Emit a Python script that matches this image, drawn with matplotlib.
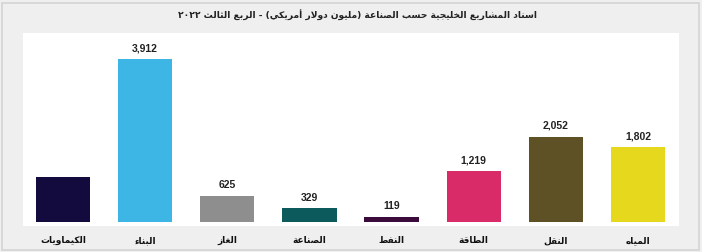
import matplotlib
matplotlib.use("Agg")
import matplotlib.pyplot as plt
from matplotlib.patches import Rectangle

# data
categories = ["الكيماويات", "البناء", "الغاز", "الصناعة", "النفط", "الطاقة", "النقل", "المياه"]
values = [1075, 3912, 625, 329, 119, 1219, 2052, 1802]
value_labels = ["", "3,912", "625", "329", "119", "1,219", "2,052", "1,802"]
colors = ["#130b3e", "#3db5e5", "#8e8e8e", "#0c5a5c", "#3b0b3b", "#d92b68", "#5e5125", "#e6d81d"]
title = "اسناد المشاريع الخليجية حسب الصناعة (مليون دولار أمريكي) - الربع الثالث ٢٠٢٢"

# matplotlib has no arabic shaping, so map letters to presentation forms by hand
letters = "ءآأؤإئابةتثجحخدذرزسشصضطظعغفقكلمنهوىي"
nforms = [1, 2, 2, 2, 2, 4, 2, 4, 2, 4, 4, 4, 4, 4, 2, 2, 2, 2,
          4, 4, 4, 4, 4, 4, 4, 4, 4, 4, 4, 4, 4, 4, 4, 2, 2, 4]
forms = {}
code = 0xFE80
for ch, n in zip(letters, nforms):
    forms[ch] = [chr(code + i) for i in range(n)]
    code += n
lam_alef = {"آ": 0xFEF5, "أ": 0xFEF7, "إ": 0xFEF9, "ا": 0xFEFB}


def shape(text):
    out = []
    i = 0
    prev_joins = False
    while i < len(text):
        ch = text[i]
        if ch not in forms:
            out.append(ch)
            prev_joins = False
            i += 1
            continue
        if ch == "ل" and i + 1 < len(text) and text[i + 1] in lam_alef:
            base = lam_alef[text[i + 1]]
            out.append(chr(base + (1 if prev_joins else 0)))
            prev_joins = False
            i += 2
            continue
        f = forms[ch]
        nxt = text[i + 1] if i + 1 < len(text) else ""
        join_prev = prev_joins and len(f) > 1
        join_next = len(f) == 4 and nxt in forms and len(forms[nxt]) > 1
        if join_prev and join_next:
            out.append(f[3])
        elif join_next:
            out.append(f[2])
        elif join_prev:
            out.append(f[1])
        else:
            out.append(f[0])
        prev_joins = len(f) == 4
        i += 1
    # visual order: reverse, keep digit runs left-to-right, mirror brackets
    s = "".join(out)
    runs = []
    cur = ""
    for ch in s:
        if ch.isdigit():
            if cur and not cur[-1].isdigit():
                runs.append(cur)
                cur = ""
            cur += ch
        else:
            if cur and cur[-1].isdigit():
                runs.append(cur)
                cur = ""
            cur += ch
    runs.append(cur)
    mirror = {"(": ")", ")": "("}
    vis = []
    for r in reversed(runs):
        if r[0].isdigit():
            vis.append(r)
        else:
            vis.append("".join(mirror.get(c, c) for c in reversed(r)))
    return "".join(vis)


fig = plt.figure(figsize=(7.02, 2.52), dpi=100)
fig.patch.set_facecolor("#efefef")
fig.patches.append(Rectangle((2 / 702, 2 / 252), 697 / 702, 247 / 252, transform=fig.transFigure,
                             fill=False, edgecolor="#d4d4d4", linewidth=1.2))

ax = fig.add_axes([23 / 702, 26 / 252, 656 / 702, 193 / 252])
ax.set_facecolor("white")
x = list(range(len(categories)))
ax.bar(x, values, width=0.66, color=colors)
ax.set_xlim(-0.487, 7.5)
ax.set_ylim(-96, 4543)
for s in ax.spines.values():
    s.set_visible(False)
ax.set_yticks([])
ax.set_xticks([])

for xi, v, lab in zip(x, values, value_labels):
    if lab:
        ax.text(xi, v + 260, lab, ha="center", va="center", fontsize=7.5, fontweight="bold",
                family=["Liberation Sans", "DejaVu Sans"], color="#222222")

# category names sit under the white area, on the grey frame
for xi, c in zip(x, categories):
    ax.text(xi, -96 - 15 * 4543 / 193, shape(c), ha="center", va="center",
            fontsize=6.5, fontweight="bold", color="#111111")

fig.text(358 / 702, 1 - 15 / 252, shape(title), ha="center", va="center", fontsize=6.6,
         fontweight="bold", color="#222222")

fig.savefig("out.png", dpi=100, facecolor=fig.get_facecolor())
